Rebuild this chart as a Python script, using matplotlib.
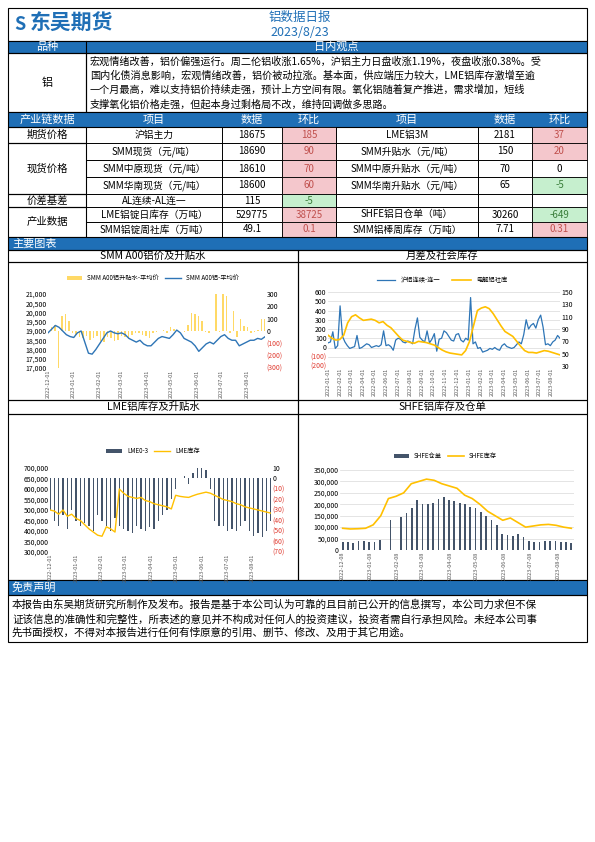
import matplotlib
matplotlib.use("Agg")
import matplotlib.pyplot as plt
import matplotlib.dates as mdates
import matplotlib.ticker as mt
import pandas as pd
import numpy as np
from matplotlib.patches import Rectangle

plt.rcParams['font.family'] = ['Noto Sans CJK SC', 'DejaVu Sans']

# ---------------- data ----------------
title = "铝数据日报"
report_date = "2023/8/23"
view_text = ["宏观情绪改善，铝价偏强运行。周二伦铝收涨1.65%，沪铝主力日盘收涨1.19%，夜盘收涨0.38%。受",
             "国内化债消息影响，宏观情绪改善，铝价被动拉涨。基本面，供应端压力较大，LME铝库存激增至逾",
             "一个月最高，难以支持铝价持续走强，预计上方空间有限。氧化铝随着复产推进，需求增加，短线",
             "支撑氧化铝价格走强，但起本身过剩格局不改，维持回调做多思路。"]
disclaimer = ["本报告由东吴期货研究所制作及发布。报告是基于本公司认为可靠的且目前已公开的信息撰写，本公司力求但不保",
              "证该信息的准确性和完整性，所表述的意见并不构成对任何人的投资建议，投资者需自行承担风险。未经本公司事",
              "先书面授权，不得对本报告进行任何有悖原意的引用、删节、修改、及用于其它用途。"]
row_groups = ["期货价格", "现货价格", "价差基差", "产业数据"]
items_left = ["沪铝主力", "SMM现货（元/吨）", "SMM中原现货（元/吨）", "SMM华南现货（元/吨）",
              "AL连续-AL连一", "LME铝锭日库存（万吨）", "SMM铝锭周社库（万吨）"]
data_left = ["18675", "18690", "18610", "18600", "115", "529775", "49.1"]
chg_left = ["185", "90", "70", "60", "-5", "38725", "0.1"]
items_right = ["LME铝3M", "SMM升贴水（元/吨）", "SMM中原升贴水（元/吨）", "SMM华南升贴水（元/吨）",
               "", "SHFE铝日仓单（吨）", "SMM铝棒周库存（万吨）"]
data_right = ["2181", "150", "70", "65", "", "30260", "7.71"]
chg_right = ["37", "20", "0", "-5", "", "-649", "0.31"]

price1 = [18900,19100,19300,19200,19000,18800,18700,18650,18900,19000,18400,17800,17750,18000,18300,18600,
          18900,19000,18900,18850,18900,18800,18600,18500,18400,18500,18300,18200,18200,18400,18600,18700,
          18650,18600,18800,19050,18900,18600,18500,18400,18200,17900,18100,18300,18400,18300,18500,18700,
          18800,18600,18500,18500,18200,18300,18400,18500,18500,18600,18550,18690]
prem1 = [0,30,50,-300,120,140,80,-20,-30,-50,-60,-40,-70,-60,-40,-80,-90,-50,-60,-80,-70,-40,-50,-60,-30,
         -20,-20,-30,-40,-60,-20,-10,0,10,-20,30,20,10,0,-10,50,150,140,120,80,-10,-20,0,300,-10,300,280,
         -20,160,-50,100,40,30,-20,-10,10,100,100]
spread2 = [50,60,170,-10,20,450,120,60,20,-10,0,10,130,-10,0,20,40,30,0,10,20,10,30,180,20,30,10,-30,80,
           100,90,60,50,70,60,40,200,320,110,80,60,180,50,90,150,-40,90,100,180,160,120,80,70,140,150,80,
           60,100,80,540,40,60,-10,0,-50,-40,-30,-10,-20,0,-20,-30,20,40,10,0,-10,0,30,60,40,140,300,200,
           240,260,210,300,350,220,30,40,20,60,80,130,100]
stock2 = [80,75,72,73,80,100,110,113,108,104,105,106,104,100,102,96,92,85,78,72,70,68,67,70,69,68,66,64,
          60,56,53,51,50,49,48,55,70,95,120,124,126,123,115,105,95,86,82,78,70,62,55,52,52,51,53,55,54,
          52,50,48]
lme_stock = [500000,495000,480000,500000,470000,480000,460000,450000,430000,410000,395000,380000,375000,
             420000,410000,395000,600000,580000,565000,560000,555000,560000,545000,540000,530000,525000,
             520000,515000,505000,570000,565000,562000,560000,568000,575000,580000,585000,580000,570000,
             560000,550000,545000,540000,530000,525000,515000,510000,505000,500000,495000,490000,485000]
lme_spread = [-30,-40,-45,-35,-48,-30,-40,-45,-42,-45,-50,-35,-40,-45,-50,-38,-45,-48,-50,-52,-45,-48,
              -50,-46,-48,-40,-35,-30,-20,-10,0,2,-5,5,10,10,8,-10,-40,-45,-45,-50,-48,-50,-45,-40,-50,
              -55,-52,-56,-50,-40]
shfe_wr = [35000,33000,32000,40000,38000,35000,36000,45000,0,130000,0,145000,160000,185000,220000,200000,
           200000,205000,225000,230000,220000,215000,205000,200000,190000,185000,165000,150000,130000,
           110000,70000,65000,60000,70000,55000,40000,35000,35000,38000,38000,38000,36000,35000,30000]
shfe_stock = [95000,92000,93000,95000,110000,150000,225000,235000,250000,290000,300000,310000,305000,
              290000,280000,270000,240000,225000,200000,170000,150000,130000,140000,120000,100000,105000,
              110000,112000,108000,100000,95000]

# ---------------- layout ----------------
W, H = 595, 842
fig = plt.figure(figsize=(5.95, 8.42), dpi=100)
ax0 = fig.add_axes([0, 0, 1, 1])
ax0.set_xlim(0, W); ax0.set_ylim(H, 0); ax0.axis('off')
BLUE = '#1F6FB6'
RED_BG, RED_T = '#F4C7CC', '#C0504D'
GRN_BG, GRN_T = '#C6EFCE', '#3A7D3A'

def box(x0, y0, x1, y1, fc='none', lw=0.8):
    ax0.add_patch(Rectangle((x0, y0), x1 - x0, y1 - y0, fc=fc, ec='black', lw=lw))

def txt(x, y, s, **kw):
    kw.setdefault('ha', 'center'); kw.setdefault('va', 'center'); kw.setdefault('fontsize', 7.5)
    ax0.text(x, y, s, **kw)

L, R = 8, 587
box(L, 8, R, 41)
txt(20, 24, "S", fontsize=13, color=BLUE, fontweight='bold')
txt(72, 23, "东吴期货", fontsize=15, color=BLUE, fontweight='bold')
txt(300, 17, title, fontsize=9, color=BLUE)
txt(300, 32, report_date, fontsize=9, color=BLUE)
box(L, 41, R, 53, fc=BLUE); ax0.plot([86, 86], [41, 53], color='black', lw=0.8)
txt(47, 47, "品种", color='white', fontsize=8); txt(336, 47, "日内观点", color='white', fontsize=8)
box(L, 53, 86, 112); box(86, 53, R, 112)
txt(47, 83, "铝", fontsize=8)
for i, line in enumerate(view_text):
    txt(90, 62 + i * 14, line, ha='left', fontsize=7.3)

cols = [8, 86, 222, 282, 336, 478, 532, 587]
box(L, 112, R, 127, fc=BLUE)
heads = ["产业链数据", "项目", "数据", "环比", "项目", "数据", "环比"]
for i, h in enumerate(heads):
    txt((cols[i] + cols[i + 1]) / 2, 119.5, h, color='white', fontsize=8)
rows = [127, 143, 160, 177, 194, 207, 222, 237]
groups = [(0, 1), (1, 4), (4, 5), (5, 7)]
for g, (a, b) in zip(row_groups, groups):
    box(cols[0], rows[a], cols[1], rows[b])
    txt(47, (rows[a] + rows[b]) / 2, g, fontsize=7.5)

def chg_style(v):
    if v in ("", "0"):
        return 'none', 'black'
    return (GRN_BG, GRN_T) if v.startswith('-') else (RED_BG, RED_T)

for r in range(7):
    y0, y1 = rows[r], rows[r + 1]; ym = (y0 + y1) / 2
    vals = [items_left[r], data_left[r], chg_left[r], items_right[r], data_right[r], chg_right[r]]
    for c in range(6):
        x0, x1 = cols[c + 1], cols[c + 2]
        fc, tc = ('none', 'black')
        if c in (2, 5):
            fc, tc = chg_style(vals[c])
        box(x0, y0, x1, y1, fc=fc, lw=0.6)
        txt((x0 + x1) / 2, ym, vals[c], color=tc, fontsize=7)

box(L, 237, R, 250, fc=BLUE)
txt(12, 243.5, "主要图表", ha='left', color='white', fontsize=8)
box(L, 250, 298, 262); box(298, 250, R, 262)
box(L, 262, 298, 400); box(298, 262, R, 400)
box(L, 400, 298, 414); box(298, 400, R, 414)
box(L, 414, 298, 580); box(298, 414, R, 580)
txt(153, 256, "SMM A00铝价及升贴水", fontsize=7.5)
txt(442, 256, "月差及社会库存", fontsize=7.5)
txt(153, 407, "LME铝库存及升贴水", fontsize=7.5)
txt(442, 407, "SHFE铝库存及仓单", fontsize=7.5)
box(L, 580, R, 595, fc=BLUE)
txt(12, 587.5, "免责声明", ha='left', color='white', fontsize=8)
box(L, 595, R, 642)
for i, line in enumerate(disclaimer):
    txt(12, 605 + i * 14, line, ha='left', fontsize=7.6)

def pax(x0, y0, x1, y1):
    return fig.add_axes([x0 / W, 1 - y1 / H, (x1 - x0) / W, (y1 - y0) / H])

def style(ax):
    for s in ax.spines.values():
        s.set_visible(False)
    ax.tick_params(length=0, labelsize=5, pad=1)
    ax.grid(axis='y', color='#D9D9D9', lw=0.5)
    ax.set_axisbelow(True)

def paren(v, pos):
    return f"({abs(int(v))})" if v < 0 else f"{int(v)}"

def comma(v, pos):
    return f"{int(v):,}"

def xticks_dates(ax, start, end):
    t = pd.date_range(start, end, freq='MS')
    ax.set_xticks(t)
    ax.set_xticklabels([d.strftime('%Y-%m-%d') for d in t], rotation=90, fontsize=4, color='#595959')

def redneg(ax):
    for l in ax.get_yticklabels():
        if l.get_text().startswith('('):
            l.set_color('#E03C31')

# Chart 1
ax1 = pax(48, 294, 265, 368)
d1 = pd.date_range('2022-12-01', '2023-08-23', periods=len(price1))
d1b = pd.date_range('2022-12-01', '2023-08-23', periods=len(prem1))
ax1b = ax1.twinx()
ax1b.bar(d1b, prem1, width=2.2, color='#FFC000', alpha=0.6, label='SMM A00铝升贴水-平均价')
ax1.plot(d1, price1, color='#2E75B6', lw=1, label='SMM A00铝-平均价')
ax1.set_ylim(17000, 21000); ax1.set_yticks(range(17000, 21001, 500))
ax1.yaxis.set_major_formatter(mt.FuncFormatter(comma))
ax1b.set_ylim(-300, 300); ax1b.set_yticks(range(-300, 301, 100))
ax1b.yaxis.set_major_formatter(mt.FuncFormatter(paren))
ax1.set_zorder(2); ax1.patch.set_visible(False)
style(ax1); style(ax1b); ax1.grid(False); ax1b.grid(False)
redneg(ax1b)
xticks_dates(ax1, '2022-12-01', '2023-08-01'); ax1.set_xlim(d1[0], d1[-1])
h1, l1 = ax1b.get_legend_handles_labels(); h2, l2 = ax1.get_legend_handles_labels()
fig.legend(h1 + h2, l1 + l2, loc='center', bbox_to_anchor=(153 / W, 1 - 278 / H), ncol=2, fontsize=4.5,
           frameon=False, handlelength=2.5, columnspacing=1)

# Chart 2
ax2 = pax(328, 292, 560, 366)
d2 = pd.date_range('2022-01-01', '2023-08-23', periods=len(spread2))
d2b = pd.date_range('2022-01-01', '2023-08-23', periods=len(stock2))
ax2.plot(d2, spread2, color='#2E75B6', lw=0.9, label='沪铝连续-连一')
ax2b = ax2.twinx()
ax2b.plot(d2b, stock2, color='#FFC000', lw=1.2, label='电解铝社库')
ax2.set_ylim(-200, 600); ax2.set_yticks(range(-200, 601, 100))
ax2.yaxis.set_major_formatter(mt.FuncFormatter(paren))
ax2b.set_ylim(30, 150); ax2b.set_yticks(range(30, 151, 20))
style(ax2); style(ax2b); ax2b.grid(False)
redneg(ax2)
xticks_dates(ax2, '2022-01-01', '2023-08-01'); ax2.set_xlim(d2[0], d2[-1])
h1, l1 = ax2.get_legend_handles_labels(); h2, l2 = ax2b.get_legend_handles_labels()
fig.legend(h1 + h2, l1 + l2, loc='center', bbox_to_anchor=(442 / W, 1 - 280 / H), ncol=2, fontsize=4.5,
           frameon=False, handlelength=3, columnspacing=2)

# Chart 3
ax3 = pax(50, 468, 271, 552)
d3 = pd.date_range('2022-12-01', '2023-08-23', periods=len(lme_stock))
d3b = pd.date_range('2022-12-01', '2023-08-23', periods=len(lme_spread))
ax3b = ax3.twinx()
ax3b.bar(d3b, lme_spread, width=1.3, color='#44546A', label='LME0-3')
ax3.plot(d3, lme_stock, color='#FFC000', lw=1, label='LME库存')
ax3.set_ylim(300000, 700000); ax3.set_yticks(range(300000, 700001, 50000))
ax3.yaxis.set_major_formatter(mt.FuncFormatter(comma))
ax3b.set_ylim(-70, 10); ax3b.set_yticks(range(-70, 11, 10))
ax3b.yaxis.set_major_formatter(mt.FuncFormatter(paren))
ax3.set_zorder(2); ax3.patch.set_visible(False)
style(ax3); style(ax3b); ax3.grid(False); ax3b.grid(False)
redneg(ax3b)
xticks_dates(ax3, '2022-12-01', '2023-08-01'); ax3.set_xlim(d3[0], d3[-1])
h1, l1 = ax3b.get_legend_handles_labels(); h2, l2 = ax3.get_legend_handles_labels()
fig.legend(h1 + h2, l1 + l2, loc='center', bbox_to_anchor=(153 / W, 1 - 451 / H), ncol=2, fontsize=4.5,
           frameon=False, handlelength=2.5, columnspacing=1)

# Chart 4
ax4 = pax(340, 470, 574, 550)
d4 = pd.date_range('2022-12-08', '2023-08-23', periods=len(shfe_wr))
d4b = pd.date_range('2022-12-08', '2023-08-23', periods=len(shfe_stock))
ax4.bar(d4, shfe_wr, width=2, color='#44546A', label='SHFE仓单')
ax4.plot(d4b, shfe_stock, color='#FFC000', lw=1.2, label='SHFE库存')
ax4.set_ylim(0, 350000); ax4.set_yticks(range(0, 350001, 50000))
ax4.yaxis.set_major_formatter(mt.FuncFormatter(comma))
style(ax4)
t4 = pd.date_range('2022-12-01', '2023-08-01', freq='MS') + pd.Timedelta(days=7)
ax4.set_xticks(t4)
ax4.set_xticklabels([d.strftime('%Y-%m-%d') for d in t4], rotation=90, fontsize=4, color='#595959')
ax4.set_xlim(d4[0] - pd.Timedelta(days=3), d4[-1] + pd.Timedelta(days=3))
h, l = ax4.get_legend_handles_labels()
ax4.legend(h[::-1], l[::-1], loc='center', bbox_to_anchor=(0.45, 1.17), ncol=2, fontsize=4.5, frameon=False,
           handlelength=2.5, columnspacing=1)

fig.savefig('out.png', dpi=100)
